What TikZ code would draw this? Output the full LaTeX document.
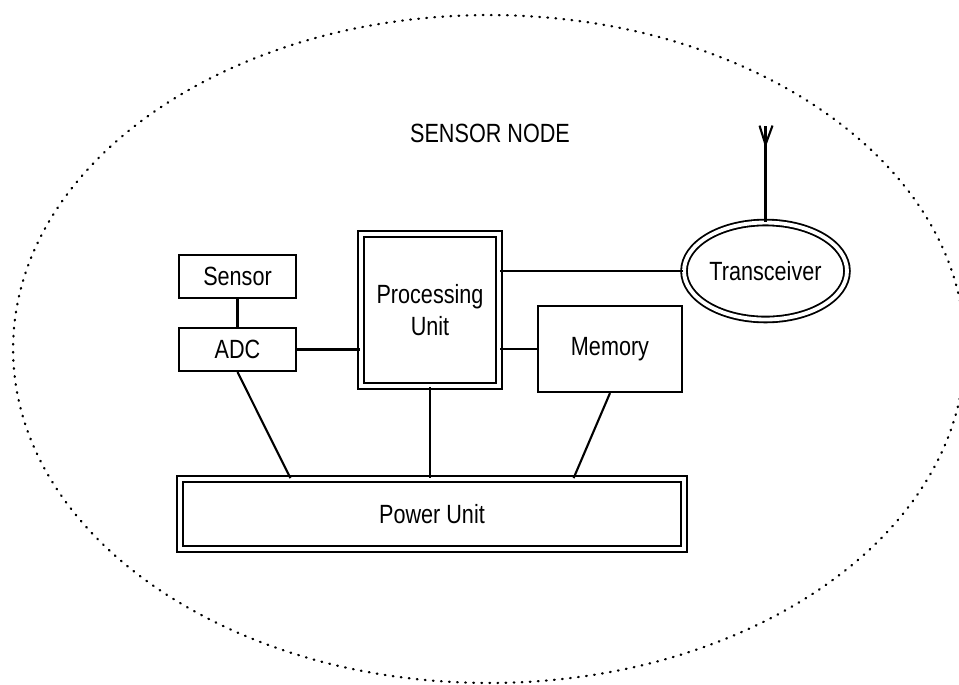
\documentclass[tikz,border=0pt]{standalone}
\usepackage{fontspec}
\setmainfont{Liberation Sans}[FakeStretch=0.82]
\usepackage{tikz}
\usetikzlibrary{shapes.geometric}
\usetikzlibrary{calc,positioning}
\tikzset{
  unitbox/.style = {draw, line width=1.2pt, inner sep=0pt, font=\fontsize{15}{17}\selectfont},
  dblbox/.style  = {unitbox, double, double distance=2.2pt, line width=1.05pt},
  wire/.style    = {line width=1.2pt},
}

\begin{document}
\begin{tikzpicture}[x=0.02cm, y=-0.02cm]

\useasboundingbox (0,0) rectangle (959,684);

% Sensor node border
\draw[line width=1.3pt, dash pattern=on 0.4pt off 4.2pt, line cap=round] (489,349) ellipse [x radius=9.52cm, y radius=6.68cm];
\node[font=\fontsize{15}{17}\selectfont] (title) at (490,133) {SENSOR NODE};

% Blocks
\node[unitbox, minimum width=2.34cm, minimum height=0.86cm] (sensor) at (237.5,276.5) {Sensor};
\node[unitbox, minimum width=2.34cm, minimum height=0.86cm] (adc) at (237.5,349.5) {ADC};
\node[dblbox, minimum width=2.76cm, minimum height=3.04cm, align=center] (pu) at (430,310) {Processing\\[1pt]Unit};
\node[unitbox, minimum width=2.88cm, minimum height=1.72cm] (mem) at (610,349) {Memory};
\node[dblbox, ellipse, minimum width=3.26cm, minimum height=1.94cm] (trx) at (765.5,271) {Transceiver};
\node[dblbox, minimum width=10.08cm, minimum height=1.4cm] (pwr) at (432,514) {Power Unit};

% Links
\draw[wire] (sensor) -- (adc);
\draw[wire] (adc.east) -- (adc.east -| pu.west);
\draw[wire] (trx.west) -- (trx.west -| pu.east);
\draw[wire] (mem.west) -- (mem.west -| pu.east);
\draw[wire] (adc.south) -- ($(pwr.north west)!0.22!(pwr.north east)$);
\draw[wire] (pu.south) -- (pu.south |- pwr.north);
\draw[wire] (mem.south) -- ($(pwr.north west)!0.78!(pwr.north east)$);

% Antenna
\draw[wire] (trx.north) -- ++(0,-96) coordinate (tip);
\draw[wire] ($(tip)+(0,19)$) -- ($(tip)+(-6,0)$);
\draw[wire] ($(tip)+(0,19)$) -- ($(tip)+(7,0)$);

\end{tikzpicture}
\end{document}
